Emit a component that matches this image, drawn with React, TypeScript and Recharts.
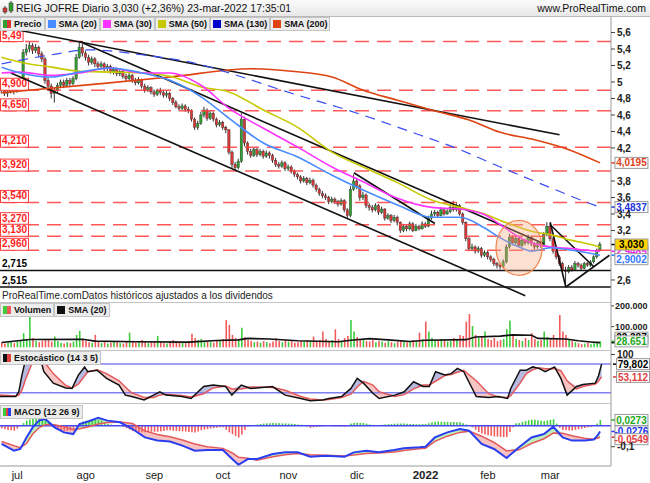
import React from "react";
import {
  Area,
  Bar,
  Cell,
  ComposedChart,
  Line,
  ReferenceDot,
  ReferenceLine,
  XAxis,
  YAxis,
} from "recharts";

// REIG JOFRE, daily bars 24-jun-2021 .. 23-mar-2022
const open = [
  4.95, 4.9, 4.86, 4.88, 4.92, 4.89, 4.93, 4.97, 5.36, 5.4,
  5.44, 5.38, 5.42, 5.34, 5.28, 5.02, 4.95, 4.86, 4.9, 4.96,
  5.0, 4.96, 5.02, 4.98, 5.04, 5.3, 5.42, 5.35, 5.3, 5.24,
  5.28, 5.22, 5.19, 5.22, 5.16, 5.19, 5.12, 5.15, 5.1, 5.13,
  5.07, 5.04, 5.08, 5.02, 4.99, 5.03, 4.95, 4.9, 4.93, 4.88,
  4.85, 4.9, 4.87, 4.84, 4.86, 4.8, 4.75, 4.7, 4.68, 4.71,
  4.67, 4.65, 4.55, 4.45, 4.5, 4.6, 4.66, 4.56, 4.62, 4.55,
  4.48, 4.51, 4.45, 4.42, 4.15, 4.0, 3.96, 4.04, 4.55, 4.26,
  4.16, 4.11, 4.18, 4.12, 4.16, 4.1, 4.14, 4.11, 4.05, 4.0,
  3.98, 4.02, 3.95, 3.97, 3.92, 3.88, 3.85, 3.8, 3.83, 3.78,
  3.81, 3.75, 3.7, 3.65, 3.62, 3.6, 3.55, 3.58, 3.55, 3.52,
  3.56, 3.45, 3.38, 3.7, 3.8, 3.74, 3.6, 3.63, 3.5, 3.48,
  3.45, 3.5, 3.42, 3.46, 3.35, 3.38, 3.32, 3.36, 3.3, 3.2,
  3.25, 3.22, 3.28, 3.2, 3.25, 3.22, 3.28, 3.25, 3.35, 3.4,
  3.42, 3.38, 3.45, 3.4, 3.43, 3.48, 3.45, 3.5, 3.4, 3.3,
  3.1, 2.98, 3.0, 2.95, 2.98, 2.9, 2.93, 2.88, 2.85, 2.8,
  2.78, 2.76, 2.82, 3.0, 3.12, 3.05, 3.1, 3.02, 3.08, 3.05,
  3.12, 3.04, 3.0, 3.05, 3.02, 3.15, 3.25, 3.1, 2.95, 2.88,
  2.8, 2.72, 2.7, 2.75, 2.72, 2.8, 2.78, 2.74, 2.8, 2.78,
  2.82, 2.88, 2.96,
];
const high = [
  4.97, 4.92, 4.91, 4.95, 4.96, 4.96, 5.0, 5.4, 5.46, 5.49,
  5.47, 5.46, 5.44, 5.37, 5.3, 5.05, 4.98, 4.93, 4.99, 5.03,
  5.03, 5.05, 5.05, 5.07, 5.34, 5.48, 5.46, 5.38, 5.33, 5.31,
  5.3, 5.25, 5.25, 5.24, 5.22, 5.21, 5.18, 5.17, 5.16, 5.15,
  5.1, 5.11, 5.1, 5.05, 5.06, 5.04, 4.98, 4.96, 4.95, 4.91,
  4.92, 4.93, 4.9, 4.89, 4.88, 4.82, 4.78, 4.73, 4.74, 4.73,
  4.7, 4.67, 4.57, 4.53, 4.64, 4.7, 4.68, 4.65, 4.64, 4.57,
  4.54, 4.53, 4.47, 4.43, 4.17, 4.03, 4.07, 4.62, 4.58, 4.28,
  4.19, 4.21, 4.2, 4.19, 4.18, 4.17, 4.16, 4.13, 4.08, 4.03,
  4.05, 4.04, 4.0, 3.99, 3.94, 3.9, 3.87, 3.86, 3.85, 3.84,
  3.83, 3.77, 3.72, 3.68, 3.65, 3.62, 3.61, 3.6, 3.57, 3.59,
  3.58, 3.47, 3.74, 3.88, 3.84, 3.76, 3.67, 3.65, 3.53, 3.51,
  3.53, 3.52, 3.49, 3.47, 3.41, 3.4, 3.39, 3.38, 3.31, 3.28,
  3.27, 3.31, 3.3, 3.28, 3.27, 3.31, 3.3, 3.38, 3.44, 3.45,
  3.44, 3.48, 3.47, 3.46, 3.51, 3.56, 3.53, 3.52, 3.42, 3.31,
  3.12, 3.04, 3.02, 3.01, 3.0, 2.96, 2.95, 2.9, 2.87, 2.82,
  2.8, 2.85, 3.03, 3.16, 3.14, 3.13, 3.12, 3.11, 3.1, 3.15,
  3.14, 3.06, 3.08, 3.07, 3.18, 3.3, 3.29, 3.12, 2.97, 2.9,
  2.82, 2.76, 2.78, 2.78, 2.83, 2.82, 2.8, 2.82, 2.82, 2.84,
  2.9, 2.98, 3.06,
];
const low = [
  4.86, 4.83, 4.82, 4.86, 4.85, 4.87, 4.9, 4.95, 5.32, 5.36,
  5.34, 5.35, 5.3, 5.24, 4.98, 4.9, 4.8, 4.75, 4.86, 4.93,
  4.93, 4.94, 4.95, 4.96, 5.02, 5.28, 5.31, 5.26, 5.2, 5.21,
  5.18, 5.15, 5.16, 5.13, 5.13, 5.1, 5.09, 5.07, 5.07, 5.04,
  5.01, 5.02, 4.99, 4.96, 4.97, 4.92, 4.87, 4.88, 4.85, 4.82,
  4.83, 4.84, 4.81, 4.81, 4.77, 4.72, 4.68, 4.65, 4.66, 4.64,
  4.62, 4.52, 4.42, 4.42, 4.48, 4.57, 4.53, 4.54, 4.52, 4.45,
  4.46, 4.42, 4.38, 4.12, 3.96, 3.92, 3.94, 4.02, 4.22, 4.12,
  4.08, 4.09, 4.09, 4.1, 4.07, 4.08, 4.07, 4.02, 3.97, 3.95,
  3.96, 3.92, 3.92, 3.89, 3.85, 3.82, 3.77, 3.78, 3.75, 3.76,
  3.72, 3.67, 3.62, 3.59, 3.57, 3.52, 3.53, 3.52, 3.49, 3.5,
  3.42, 3.35, 3.36, 3.68, 3.7, 3.56, 3.57, 3.47, 3.44, 3.42,
  3.43, 3.39, 3.4, 3.32, 3.33, 3.29, 3.3, 3.26, 3.17, 3.18,
  3.19, 3.2, 3.18, 3.19, 3.2, 3.21, 3.23, 3.24, 3.33, 3.37,
  3.36, 3.37, 3.38, 3.39, 3.41, 3.43, 3.43, 3.38, 3.27, 3.07,
  2.95, 2.95, 2.92, 2.93, 2.87, 2.88, 2.85, 2.82, 2.77, 2.74,
  2.73, 2.74, 2.8, 2.98, 3.02, 3.03, 3.0, 3.0, 3.02, 3.03,
  3.01, 2.97, 2.98, 2.99, 3.0, 3.13, 3.07, 2.92, 2.85, 2.77,
  2.69, 2.515, 2.68, 2.7, 2.71, 2.75, 2.72, 2.73, 2.76, 2.76,
  2.8, 2.86, 2.95,
];
const close = [
  4.9, 4.86, 4.88, 4.92, 4.89, 4.93, 4.97, 5.36, 5.4, 5.44,
  5.38, 5.42, 5.34, 5.28, 5.02, 4.95, 4.86, 4.9, 4.96, 5.0,
  4.96, 5.02, 4.98, 5.04, 5.3, 5.42, 5.35, 5.3, 5.24, 5.28,
  5.22, 5.19, 5.22, 5.16, 5.19, 5.12, 5.15, 5.1, 5.13, 5.07,
  5.04, 5.08, 5.02, 4.99, 5.03, 4.95, 4.9, 4.93, 4.88, 4.85,
  4.9, 4.87, 4.84, 4.86, 4.8, 4.75, 4.7, 4.68, 4.71, 4.67,
  4.65, 4.55, 4.45, 4.5, 4.6, 4.66, 4.56, 4.62, 4.55, 4.48,
  4.51, 4.45, 4.42, 4.15, 4.0, 3.96, 4.04, 4.55, 4.26, 4.16,
  4.11, 4.18, 4.12, 4.16, 4.1, 4.14, 4.11, 4.05, 4.0, 3.98,
  4.02, 3.95, 3.97, 3.92, 3.88, 3.85, 3.8, 3.83, 3.78, 3.81,
  3.75, 3.7, 3.65, 3.62, 3.6, 3.55, 3.58, 3.55, 3.52, 3.56,
  3.45, 3.38, 3.7, 3.8, 3.74, 3.6, 3.63, 3.5, 3.48, 3.45,
  3.5, 3.42, 3.46, 3.35, 3.38, 3.32, 3.36, 3.3, 3.2, 3.25,
  3.22, 3.28, 3.2, 3.25, 3.22, 3.28, 3.25, 3.35, 3.4, 3.42,
  3.38, 3.45, 3.4, 3.43, 3.48, 3.45, 3.5, 3.4, 3.3, 3.1,
  2.98, 3.0, 2.95, 2.98, 2.9, 2.93, 2.88, 2.85, 2.8, 2.78,
  2.76, 2.82, 3.0, 3.12, 3.05, 3.1, 3.02, 3.08, 3.05, 3.12,
  3.04, 3.0, 3.05, 3.02, 3.15, 3.25, 3.1, 2.95, 2.88, 2.8,
  2.72, 2.7, 2.75, 2.72, 2.8, 2.78, 2.74, 2.8, 2.78, 2.82,
  2.88, 2.96, 3.03,
];
// volume in thousands of shares
const volumeK = [
  22, 18, 25, 30, 20, 28, 35, 68, 40, 165,
  45, 30, 25, 32, 40, 35, 28, 52, 30, 22,
  18, 25, 20, 28, 60, 79, 35, 30, 25, 22,
  60, 28, 20, 25, 18, 22, 30, 25, 20, 18,
  28, 71, 30, 22, 25, 35, 28, 20, 25, 30,
  55, 25, 20, 18, 30, 35, 28, 22, 25, 20,
  30, 65, 45, 35, 40, 30, 28, 25, 22, 30,
  35, 40, 132, 108, 60, 45, 40, 95, 50, 35,
  30, 25, 28, 22, 30, 25, 20, 28, 44, 30,
  25, 35, 28, 30, 22, 25, 30, 28, 35, 30,
  52, 30, 35, 76, 40, 30, 35, 87, 40, 30,
  45, 55, 132, 76, 50, 40, 35, 30, 28, 35,
  25, 30, 28, 22, 30, 25, 20, 28, 35, 30,
  25, 30, 35, 28, 71, 40, 124, 76, 45, 35,
  30, 40, 35, 28, 30, 45, 40, 60, 55, 124,
  161, 103, 60, 45, 50, 76, 40, 35, 45, 30,
  35, 40, 87, 129, 55, 40, 35, 30, 45, 35,
  68, 40, 30, 35, 76, 50, 40, 60, 45, 156,
  76, 60, 40, 30, 25, 20, 15, 18, 22, 15,
  20, 25, 28.651,
];
// MACD histogram in thousandths
const macdHistMilli = [
  -12, -16, -20, -22, -24, -14, -3, 12, 24, 30,
  32, 33, 34, 30, 27, 15, 2, -10, -18, -24,
  -27, -25, -23, -22, -5, 12, 20, 24, 26, 27,
  28, 29, 24, 16, 9, 6, 3, 1, -1, -6,
  -12, -18, -26, -30, -32, -31, -31, -30, -29, -29,
  -29, -27, -25, -22, -22, -24, -25, -26, -27, -28,
  -30, -31, -32, -28, -22, -19, -16, -14, -12, -10,
  -8, -8, -20, -32, -41, -50, -56, -42, -20, -4,
  2, 4, 6, 8, 10, 11, 12, 13, 12, 12,
  11, 11, 10, 9, 8, 6, 4, 0, -4, -10,
  -8, -6, -5, -3, -2, -2, -3, -4, -4, -4,
  -4, 2, 10, 13, 14, 13, 13, 10, 6, 4,
  2, 3, 4, 6, 7, 8, 9, 10, 10, 10,
  9, 8, 8, 7, 7, 8, 8, 12, 16, 19,
  20, 19, 18, 18, 17, 17, 16, 16, 12, 6,
  2, -8, -20, -30, -37, -42, -45, -48, -51, -52,
  -53, -54, -54, -30, -8, 12, 12, 18, 22, 26,
  29, 28, 26, 24, 22, 25, 28, 30, 10, -10,
  -20, -22, -23, -23, -20, -17, -14, -11, -8, -5,
  -2, 10, 27.3,
];

// moving averages: [bar index, value]
const sma20Pts = [[0, 5.18], [6, 5.11], [16, 5.06], [25, 5.12], [35, 5.17], [45, 5.11], [54, 5.02], [64, 4.82], [73, 4.56], [84, 4.26], [95, 4.09], [106, 3.87], [116, 3.69], [127, 3.51], [138, 3.36], [147, 3.36], [155, 3.23], [160, 3.11], [166, 3.0], [170, 2.95], [176, 2.99], [183, 2.96], [188, 2.93], [192, 2.9002]];
const sma30Pts = [[0, 5.11], [6, 5.12], [16, 5.08], [25, 5.11], [35, 5.17], [45, 5.11], [54, 5.11], [64, 4.96], [73, 4.68], [84, 4.44], [95, 4.21], [106, 3.97], [116, 3.79], [127, 3.59], [138, 3.48], [147, 3.46], [155, 3.39], [160, 3.27], [166, 3.12], [170, 3.05], [176, 3.0], [183, 2.98], [188, 2.96], [192, 2.9485]];
const sma50Pts = [[0, 5.3], [6, 5.24], [16, 5.18], [25, 5.13], [35, 5.12], [45, 5.11], [54, 5.07], [64, 4.94], [73, 4.88], [84, 4.66], [95, 4.45], [106, 4.15], [116, 3.97], [127, 3.78], [138, 3.57], [147, 3.48], [155, 3.4], [160, 3.32], [166, 3.24], [170, 3.19], [176, 3.15], [183, 3.08], [188, 3.04], [192, 3.0]];
const sma130Pts = [[0, 5.22], [16, 5.33], [28, 5.39], [45, 5.33], [64, 5.21], [73, 5.11], [95, 4.84], [111, 4.66], [122, 4.52], [134, 4.36], [145, 4.21], [160, 3.97], [176, 3.72], [190, 3.51], [192, 3.4837]];
const sma200Pts = [[0, 4.87], [32, 4.98], [54, 5.06], [80, 5.16], [93, 5.13], [106, 5.06], [116, 4.9], [127, 4.78], [140, 4.64], [150, 4.54], [160, 4.39], [171, 4.3], [182, 4.18], [192, 4.0195]];
const volSmaPts = [[0, 23000], [9, 38000], [26, 39000], [30, 30000], [43, 27000], [60, 25000], [69, 33000], [76, 36000], [79, 43000], [86, 40000], [95, 32000], [108, 27000], [112, 34000], [118, 42000], [124, 36000], [131, 28000], [136, 34000], [149, 37000], [152, 50000], [160, 54000], [164, 60000], [170, 58000], [172, 43000], [181, 40000], [185, 32000], [189, 26000], [192, 22387]];

// stochastic (14 3 5)
const stochIdx = [0, 5, 6, 7, 8, 10, 13, 14, 17, 21, 23, 25, 27, 28, 31, 34, 38, 40, 42, 46, 49, 51, 53, 58, 61, 65, 68, 72, 74, 77, 80, 87, 91, 96, 99, 103, 105, 109, 112, 114, 116, 119, 121, 126, 129, 132, 135, 137, 139, 142, 144, 146, 148, 152, 156, 159, 162, 163, 166, 168, 170, 172, 174, 177, 179, 181, 184, 186, 190, 191, 192];
const stochK = [12, 12, 22, 57, 85, 95, 88, 64, 40, 30, 29, 57, 74, 64, 67, 50, 36, 15, 12, 5, 15, 22, 15, 12, 8, 33, 36, 33, 15, 36, 29, 33, 15, 8, 3, 5, 8, 12, 29, 50, 40, 19, 8, 15, 22, 43, 33, 33, 64, 57, 60, 71, 64, 12, 10, 12, 8, 29, 67, 67, 74, 71, 64, 74, 50, 15, 33, 37, 40, 55, 79.802];
const stochD = [15, 13, 15, 25, 45, 78, 92, 86, 60, 35, 30, 38, 55, 64, 68, 60, 45, 32, 20, 10, 10, 15, 17, 14, 11, 18, 30, 34, 28, 28, 32, 31, 25, 12, 7, 5, 6, 10, 17, 32, 44, 36, 22, 12, 16, 28, 36, 36, 44, 56, 58, 63, 67, 45, 18, 11, 10, 14, 40, 60, 68, 72, 70, 70, 66, 45, 28, 33, 38, 44, 53.112];

// MACD (12 26 9)
const macdIdx = [0, 4, 6, 8, 10, 12, 14, 17, 20, 23, 25, 28, 31, 34, 38, 42, 46, 50, 54, 58, 62, 66, 71, 74, 76, 79, 82, 87, 91, 95, 99, 104, 110, 113, 117, 121, 126, 129, 134, 136, 139, 143, 147, 150, 154, 158, 162, 166, 170, 174, 177, 180, 183, 187, 190, 191, 192];
const macdLine = [-0.087, -0.119, -0.111, -0.056, -0.008, 0.024, 0.032, -0.008, -0.032, -0.04, 0.008, 0.021, 0.037, 0.024, 0.016, -0.016, -0.056, -0.071, -0.075, -0.095, -0.119, -0.116, -0.116, -0.159, -0.186, -0.159, -0.159, -0.135, -0.127, -0.127, -0.148, -0.143, -0.148, -0.127, -0.119, -0.127, -0.116, -0.108, -0.103, -0.1, -0.056, -0.032, -0.016, -0.024, -0.087, -0.111, -0.154, -0.103, -0.056, -0.04, -0.005, -0.056, -0.071, -0.071, -0.066, -0.05, -0.0276];
const signalLine = [-0.075, -0.095, -0.105, -0.085, -0.04, -0.01, 0.005, 0.005, -0.005, -0.018, -0.015, -0.005, 0.008, 0.015, 0.017, 0.01, -0.025, -0.042, -0.053, -0.068, -0.087, -0.1, -0.108, -0.13, -0.15, -0.155, -0.165, -0.148, -0.138, -0.133, -0.138, -0.141, -0.144, -0.14, -0.132, -0.13, -0.125, -0.118, -0.11, -0.108, -0.075, -0.05, -0.032, -0.026, -0.05, -0.08, -0.12, -0.115, -0.085, -0.062, -0.035, -0.036, -0.048, -0.06, -0.065, -0.06, -0.0549];

// horizontal levels drawn on the price panel
const redLevels = [5.49, 4.9, 4.65, 4.21, 3.92, 3.54, 3.27, 3.13, 2.96];
const redLevelLabels = ["5,49", "4,900", "4,650", "4,210", "3,920", "3,540", "3,270", "3,130", "2,960"];
const blackLevels = [2.715, 2.515];
const blackLevelLabels = ["2,715", "2,515"];
// trend lines: [bar from, price from, bar to, price to]
const trendLines = [
  [4, 5.64, 179, 4.36],
  [25, 5.49, 174, 3.04],
  [3, 5.11, 168, 2.41],
  [113, 3.9, 139, 3.285],
  [176, 3.3, 181, 2.515],
  [181, 2.515, 195, 2.9],
  [176, 3.27, 190, 2.76],
];
const circleCenter = { i: 166, price: 2.99 };

const priceTicks = [5.6, 5.4, 5.2, 5, 4.8, 4.6, 4.4, 4.2, 3.8, 3.6, 3.4, 3.2, 2.6];
const volumeTicks = [100000, 200000];
const monthIdx = [5, 27, 49, 71, 92, 114, 136, 156, 176];
const monthLabels = ["jul", "ago", "sep", "oct", "nov", "dic", "2022", "feb", "mar"];

const N_DAYS = close.length;
const N_SLOTS = N_DAYS + 3; // empty slots right of the last bar
const LAST_SLOT = N_SLOTS - 1;

const rows: any[] = Array.from({ length: N_SLOTS }, (_, i) => {
  const r: any = { i };
  if (i < N_DAYS) {
    r.o = open[i];
    r.h = high[i];
    r.l = low[i];
    r.c = close[i];
    r.range = [low[i], high[i]];
    r.up = close[i] >= open[i];
    r.vol = volumeK[i] * 1000;
    r.hist = macdHistMilli[i] / 1000;
  }
  return r;
});
const put = (key: string, pts: number[][]) => pts.forEach(([i, v]) => (rows[i][key] = v));
put("s20", sma20Pts);
put("s30", sma30Pts);
put("s50", sma50Pts);
put("s130", sma130Pts);
put("s200", sma200Pts);
put("vsma", volSmaPts);
stochIdx.forEach((i, j) => {
  const k = stochK[j];
  const d = stochD[j];
  Object.assign(rows[i], { k, d, kUp: [d, Math.max(k, d)], kDn: [Math.min(k, d), d] });
});
macdIdx.forEach((i, j) => {
  const m = macdLine[j];
  const s = signalLine[j];
  Object.assign(rows[i], { m, s, mUp: [s, Math.max(m, s)], mDn: [Math.min(m, s), s] });
});

const last = (pts: number[][]) => pts[pts.length - 1][1];
const comma = (v: number, d?: number) => (d == null ? String(v) : v.toFixed(d)).replace(".", ",");
const dots = (v: number) => Math.round(v).toString().replace(/\B(?=(\d{3})+(?!\d))/g, ".");

const FONT = '"Liberation Sans", Arial, sans-serif';
const GREEN = "#2f9f2f";
const RED = "#d93636";
const VOL_GREEN = "#3ccc3c";
const VOL_RED = "#f05a5a";
const MARGIN = { top: 0, right: 0, bottom: 0, left: 0 };
const AXIS_TICK = { fontSize: 10, fontWeight: "bold", fill: "#222" } as any;

function Candle(props: any) {
  const { x, y, width, height, payload } = props;
  if (!payload || payload.o == null) return null;
  const top = Math.min(y, y + height);
  const h = Math.abs(height);
  const span = payload.h - payload.l || 1;
  const yOf = (v: number) => top + ((payload.h - v) / span) * h;
  const b1 = yOf(Math.max(payload.o, payload.c));
  const b2 = yOf(Math.min(payload.o, payload.c));
  const cx = x + width / 2;
  return (
    <g>
      <line x1={cx} x2={cx} y1={top} y2={top + h} stroke="#333" strokeWidth={1} />
      <rect
        x={cx - 1.2}
        y={b1}
        width={2.4}
        height={Math.max(b2 - b1, 0.8)}
        fill={payload.up ? GREEN : RED}
        stroke="#333"
        strokeWidth={0.4}
      />
    </g>
  );
}

function LevelTag({ viewBox, text, boxed }: any) {
  if (!viewBox) return null;
  const { x, y } = viewBox;
  const w = text.length * 5.4 + 1;
  return (
    <g>
      {boxed && <rect x={x + 0.5} y={y - 12} width={w} height={12} fill="#fff" stroke="#ff3a3a" strokeWidth={1} />}
      <text x={x + 2} y={y - 3} fontSize={10} fontWeight="bold" fill={boxed ? "#ff1e1e" : "#000"}>
        {text}
      </text>
    </g>
  );
}

// tick label drawn just right of the plot edge (used where the axis would drop an edge tick)
function EdgeTick({ viewBox, text }: any) {
  if (!viewBox) return null;
  const xr = viewBox.x + viewBox.width;
  return (
    <g>
      <line x1={xr} x2={xr + 3} y1={viewBox.y} y2={viewBox.y} stroke="#444" />
      <text x={xr + 4} y={viewBox.y + 3.3} fontSize={9} fontWeight="bold" fill="#222">
        {text}
      </text>
    </g>
  );
}

function sideTag(text: string, color: string, bg = "#fff", dy = 0) {
  return (p: any) => (
    <g>
      <line x1={p.cx + 2} x2={p.cx + 6} y1={p.cy} y2={p.cy} stroke={color} strokeWidth={1.5} />
      <rect x={p.cx + 5.5} y={p.cy + dy - 5.5} width={33} height={11} fill={bg} stroke="#9a9a9a" strokeWidth={1} />
      <text x={p.cx + 22} y={p.cy + dy + 3.6} textAnchor="middle" fontSize={10} fontWeight="bold" fill={color}>
        {text}
      </text>
    </g>
  );
}

function MonthTick({ x, y, payload }: any) {
  const label = monthLabels[monthIdx.indexOf(payload.value)];
  const bold = label === "2022";
  return (
    <text x={x} y={y + 13} textAnchor="middle" fontSize={bold ? 11.5 : 11} fontWeight={bold ? "bold" : "normal"} fill="#222">
      {label}
    </text>
  );
}

function LegendBox({ children }: any) {
  return (
    <div
      style={{
        display: "flex",
        alignItems: "center",
        gap: 3,
        height: 12,
        padding: "0 2px 0 2px",
        background: "#ececec",
        border: "1px solid #c4c4c4",
        fontSize: 9,
        fontWeight: "bold",
        color: "#111",
        whiteSpace: "nowrap",
      }}
    >
      {children}
    </div>
  );
}

const Swatch = ({ colors }: { colors: string[] }) => (
  <span style={{ display: "flex", width: 8, height: 8 }}>
    {colors.map((c) => (
      <span key={c} style={{ flex: 1, background: c }} />
    ))}
  </span>
);

function Legend({ top, items }: { top: number; items: { label: string; colors: string[] }[] }) {
  return (
    <div style={{ position: "absolute", left: 0, top, display: "flex" }}>
      {items.map((it) => (
        <LegendBox key={it.label}>
          <Swatch colors={it.colors} />
          {it.label}
        </LegendBox>
      ))}
    </div>
  );
}

const Sep = ({ top }: { top: number }) => (
  <div style={{ position: "absolute", left: 0, top, width: 611, height: 1, background: "#c4c4c4" }} />
);

export default function App() {
  const lastClose = close[N_DAYS - 1];
  return (
    <div
      style={{
        position: "relative",
        width: 650,
        height: 483,
        overflow: "hidden",
        background: "#fff",
        fontFamily: FONT,
      }}
    >
      <style>{`body{margin:0}`}</style>

      {/* price panel */}
      <div style={{ position: "absolute", left: 0, top: 17 }}>
        <ComposedChart width={650} height={285} data={rows} margin={MARGIN}>
          <XAxis dataKey="i" hide />
          <YAxis
            orientation="right"
            width={39}
            type="number"
            domain={[2.333, 5.788]}
            allowDataOverflow
            ticks={priceTicks}
            interval={0}
            tickFormatter={(v) => comma(v)}
            tick={AXIS_TICK}
            tickSize={4}
            tickLine={{ stroke: "#444" }}
            axisLine={{ stroke: "#9a9a9a" }}
          />
          {redLevels.map((v, k) => (
            <ReferenceLine
              key={"r" + v}
              y={v}
              stroke="#ff3c3c"
              strokeOpacity={0.85}
              strokeWidth={1.5}
              strokeDasharray="14 8"
              label={<LevelTag text={redLevelLabels[k]} boxed />}
            />
          ))}
          {blackLevels.map((v, k) => (
            <ReferenceLine key={"b" + v} y={v} stroke="#111" strokeWidth={1.5} label={<LevelTag text={blackLevelLabels[k]} />} />
          ))}
          {trendLines.map(([i1, p1, i2, p2], k) => (
            <ReferenceLine
              key={"t" + k}
              segment={[
                { x: i1, y: p1 },
                { x: i2, y: p2 },
              ]}
              stroke="#111"
              strokeWidth={1.6}
              ifOverflow="visible"
            />
          ))}
          <Bar dataKey="range" shape={Candle} isAnimationActive={false} />
          <ReferenceDot
            x={circleCenter.i}
            y={circleCenter.price}
            ifOverflow="visible"
            shape={(p: any) => (
              <ellipse cx={p.cx} cy={p.cy} rx={23} ry={27.5} fill="#f7a880" fillOpacity={0.35} stroke="#f08a55" strokeWidth={1.3} />
            )}
          />
          <Line dataKey="s200" type="monotone" stroke="#dd4411" strokeWidth={1.6} dot={false} connectNulls isAnimationActive={false} />
          <Line dataKey="s130" type="monotone" stroke="#3a4ef0" strokeWidth={1.2} strokeDasharray="10 7" dot={false} connectNulls isAnimationActive={false} />
          <Line dataKey="s50" type="monotone" stroke="#c8c800" strokeWidth={1.6} dot={false} connectNulls isAnimationActive={false} />
          <Line dataKey="s30" type="monotone" stroke="#ff33ff" strokeWidth={1.6} dot={false} connectNulls isAnimationActive={false} />
          <Line dataKey="s20" type="monotone" stroke="#4a8cff" strokeWidth={1.6} dot={false} connectNulls isAnimationActive={false} />
          <ReferenceDot x={LAST_SLOT} y={last(sma200Pts)} ifOverflow="visible" shape={sideTag(comma(last(sma200Pts), 4), "#e0401a")} />
          <ReferenceDot x={LAST_SLOT} y={last(sma130Pts)} ifOverflow="visible" shape={sideTag(comma(last(sma130Pts), 4), "#2233dd")} />
          <ReferenceDot x={LAST_SLOT} y={last(sma30Pts)} ifOverflow="visible" shape={sideTag(comma(last(sma30Pts), 4), "#ee22ee")} />
          <ReferenceDot x={LAST_SLOT} y={lastClose} ifOverflow="visible" shape={sideTag(comma(lastClose, 3), "#000", "#ffd400")} />
          <ReferenceDot x={LAST_SLOT} y={last(sma20Pts)} ifOverflow="visible" shape={sideTag(comma(last(sma20Pts), 4), "#3377ff", "#fff", 4)} />
        </ComposedChart>
      </div>
      <div style={{ position: "absolute", left: 2, top: 290, fontSize: 10, color: "#222" }}>
        ProRealTime.comDatos históricos ajustados a los dividendos
      </div>

      {/* volume panel */}
      <div style={{ position: "absolute", left: 0, top: 302 }}>
        <ComposedChart width={650} height={48} data={rows} margin={MARGIN}>
          <XAxis dataKey="i" hide />
          <YAxis
            orientation="right"
            width={39}
            type="number"
            domain={[-13000, 218800]}
            allowDataOverflow
            tick={false}
            tickLine={false}
            axisLine={{ stroke: "#9a9a9a" }}
          />
          {volumeTicks.map((v) => (
            <ReferenceLine key={v} y={v} stroke="none" ifOverflow="visible" label={<EdgeTick text={dots(v)} />} />
          ))}
          <Bar dataKey="vol" barSize={1.6} isAnimationActive={false}>
            {rows.map((r) => (
              <Cell key={r.i} fill={r.up ? VOL_GREEN : VOL_RED} />
            ))}
          </Bar>
          <Line dataKey="vsma" type="linear" stroke="#111" strokeWidth={1.6} dot={false} connectNulls isAnimationActive={false} />
          <ReferenceDot x={LAST_SLOT} y={last(volSmaPts)} ifOverflow="visible" shape={sideTag(dots(last(volSmaPts)), "#000", "#fff", -5)} />
          <ReferenceDot x={LAST_SLOT} y={volumeK[N_DAYS - 1] * 1000} ifOverflow="visible" shape={sideTag(dots(volumeK[N_DAYS - 1] * 1000), "#22a822")} />
        </ComposedChart>
      </div>

      {/* stochastic panel */}
      <div style={{ position: "absolute", left: 0, top: 350 }}>
        <ComposedChart width={650} height={53} data={rows} margin={MARGIN}>
          <XAxis dataKey="i" hide />
          <YAxis
            orientation="right"
            width={39}
            type="number"
            domain={[-1.5, 109.4]}
            allowDataOverflow
            ticks={[100]}
            interval={0}
            tick={AXIS_TICK}
            tickSize={4}
            tickLine={{ stroke: "#444" }}
            axisLine={{ stroke: "#9a9a9a" }}
          />
          <Area dataKey="kUp" type="linear" stroke="none" fill="#b7bbe2" fillOpacity={1} connectNulls isAnimationActive={false} />
          <Area dataKey="kDn" type="linear" stroke="none" fill="#f7c4c4" fillOpacity={1} connectNulls isAnimationActive={false} />
          <ReferenceLine y={80} stroke="#7f7ff0" strokeWidth={1.5} />
          <ReferenceLine y={20} stroke="#7f7ff0" strokeWidth={1.5} />
          <Line dataKey="d" type="linear" stroke="#e45a5a" strokeWidth={1.5} dot={false} connectNulls isAnimationActive={false} />
          <Line dataKey="k" type="linear" stroke="#111" strokeWidth={1.5} dot={false} connectNulls isAnimationActive={false} />
          <ReferenceDot x={LAST_SLOT} y={stochK[stochK.length - 1]} ifOverflow="visible" shape={sideTag(comma(stochK[stochK.length - 1], 3), "#000")} />
          <ReferenceDot x={LAST_SLOT} y={stochD[stochD.length - 1]} ifOverflow="visible" shape={sideTag(comma(stochD[stochD.length - 1], 3), "#e04040")} />
        </ComposedChart>
      </div>

      {/* MACD panel with time axis */}
      <div style={{ position: "absolute", left: 0, top: 403 }}>
        <ComposedChart width={650} height={80} data={rows} margin={MARGIN}>
          <XAxis
            dataKey="i"
            height={17}
            ticks={monthIdx}
            interval={0}
            tick={<MonthTick />}
            tickSize={0}
            tickMargin={0}
            tickLine={false}
            axisLine={{ stroke: "#9a9a9a" }}
          />
          <YAxis
            orientation="right"
            width={39}
            type="number"
            domain={[-0.192, 0.108]}
            allowDataOverflow
            ticks={[-0.1]}
            interval={0}
            tickFormatter={(v) => comma(v)}
            tick={AXIS_TICK}
            tickSize={4}
            tickLine={{ stroke: "#444" }}
            axisLine={{ stroke: "#9a9a9a" }}
          />
          <Area dataKey="mUp" type="linear" stroke="none" fill="#bdf0bd" fillOpacity={1} connectNulls isAnimationActive={false} />
          <Area dataKey="mDn" type="linear" stroke="none" fill="#f6c2c2" fillOpacity={1} connectNulls isAnimationActive={false} />
          <Bar dataKey="hist" barSize={1.6} isAnimationActive={false}>
            {rows.map((r) => (
              <Cell key={r.i} fill={r.hist >= 0 ? VOL_GREEN : VOL_RED} />
            ))}
          </Bar>
          <ReferenceLine y={0} stroke="#4a4af0" strokeWidth={1.5} />
          <Line dataKey="s" type="linear" stroke="#e45a5a" strokeWidth={1.5} dot={false} connectNulls isAnimationActive={false} />
          <Line dataKey="m" type="linear" stroke="#2a3ef0" strokeWidth={2} dot={false} connectNulls isAnimationActive={false} />
          <ReferenceDot x={LAST_SLOT} y={macdHistMilli[N_DAYS - 1] / 1000} ifOverflow="visible" shape={sideTag(comma(macdHistMilli[N_DAYS - 1] / 1000, 4), "#22a822")} />
          <ReferenceDot x={LAST_SLOT} y={macdLine[macdLine.length - 1]} ifOverflow="visible" shape={sideTag(comma(macdLine[macdLine.length - 1], 4), "#2233ee")} />
          <ReferenceDot x={LAST_SLOT} y={signalLine[signalLine.length - 1]} ifOverflow="visible" shape={sideTag(comma(signalLine[signalLine.length - 1], 4), "#e04040", "#fff", 2)} />
        </ComposedChart>
      </div>

      <Sep top={302} />
      <Sep top={350} />
      <Sep top={403} />

      {/* header */}
      <div
        style={{
          position: "absolute",
          left: 0,
          top: 0,
          width: 650,
          height: 16,
          background: "linear-gradient(#fbfbfb, #e8e8e8)",
          borderBottom: "1px solid #b8b8b8",
          fontSize: 10.5,
          lineHeight: "16px",
          color: "#111",
        }}
      >
        <svg width={12} height={14} style={{ position: "absolute", left: 2, top: 1 }}>
          <line x1={3} x2={3} y1={5} y2={13} stroke="#333" />
          <rect x={1} y={7} width={4} height={4} fill={RED} stroke="#333" strokeWidth={0.5} />
          <line x1={9} x2={9} y1={0} y2={12} stroke="#333" />
          <rect x={7} y={2} width={4} height={8} fill={GREEN} stroke="#333" strokeWidth={0.5} />
        </svg>
        <span style={{ position: "absolute", left: 16 }}>REIG JOFRE Diario 3,030 (+2,36%) 23-mar-2022 17:35:01</span>
        <span style={{ position: "absolute", right: 4 }}>www.ProRealTime.com</span>
      </div>
      <Legend
        top={17}
        items={[
          { label: "Precio", colors: [GREEN, RED] },
          { label: "SMA (20)", colors: ["#4a8cff"] },
          { label: "SMA (30)", colors: ["#ff33ff"] },
          { label: "SMA (50)", colors: ["#c8c800"] },
          { label: "SMA (130)", colors: ["#0000cc"] },
          { label: "SMA (200)", colors: ["#dd4411"] },
        ]}
      />
      <Legend
        top={303}
        items={[
          { label: "Volumen", colors: [VOL_GREEN, VOL_RED] },
          { label: "SMA (20)", colors: ["#111"] },
        ]}
      />
      <Legend top={351} items={[{ label: "Estocástico (14 3 5)", colors: ["#111", "#e04040"] }]} />
      <Legend top={405} items={[{ label: "MACD (12 26 9)", colors: [VOL_GREEN, "#e04040", "#2a3ef0"] }]} />
    </div>
  );
}
